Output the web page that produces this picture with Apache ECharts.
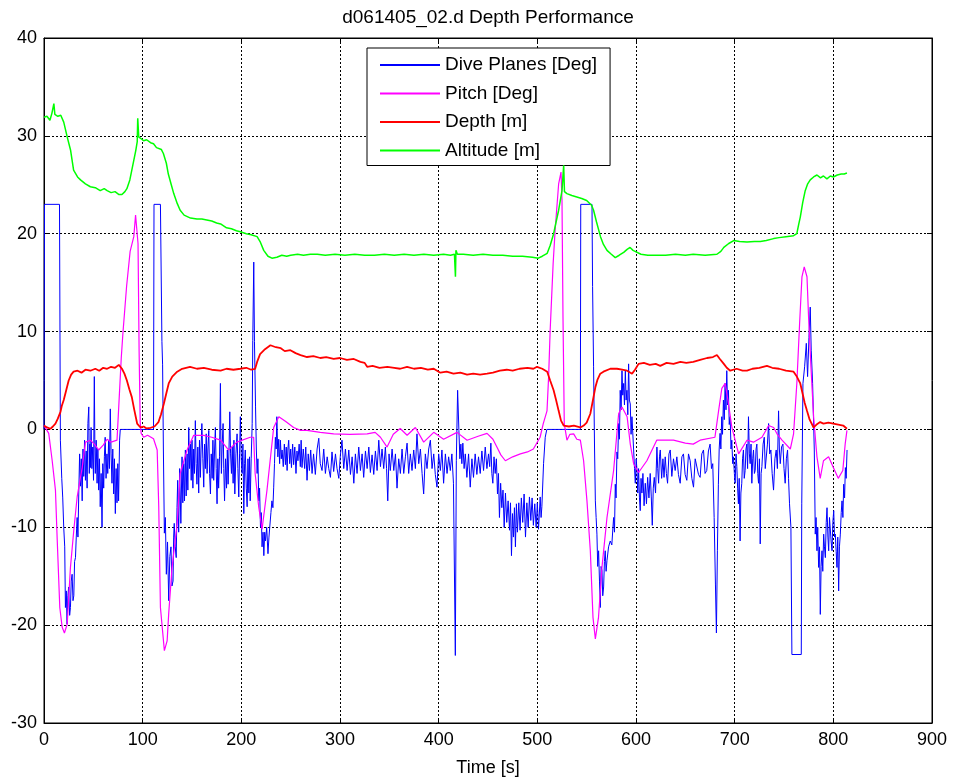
<!DOCTYPE html>
<html>
<head>
<meta charset="utf-8">
<script src="https://cdn.jsdelivr.net/npm/echarts@6/dist/echarts.min.js"></script>
<style>
html,body{margin:0;padding:0;background:#fff;}
#chart{width:955px;height:782px;}
</style>
</head>
<body>
<div id="chart"></div>
<script>
// ---- data: [time s, value] ----
const titleText = 'd061405_02.d Depth Performance';
const xAxisName = 'Time [s]';
const seriesNames = ['Dive Planes [Deg]', 'Pitch [Deg]', 'Depth [m]', 'Altitude [m]'];
const seriesColors = ['#0000ff', '#ff00ff', '#ff0000', '#00ff00'];
const xRange = [0, 900, 100];
const yRange = [-30, 40, 10];

const divePlanes = [
[0,0],[0.5,23],[15.7,23],[16.6,-1.1],[18,-5],[19,-7.0],[20,-10],[21,-12],[21.7,-18.2],[22.6,-16.5],[23.4,-19.9],[24.2,-17.0],[25,-16.1],[26,-19.0],[26.8,-18.2],[27.6,-15.5],[28.5,-14.8],[29.4,-17.5],[30.2,-17],[31,-13.5],[31.9,-13.1],[32.7,-11.0],[33.6,-9],[34.4,-11.0],
[35.3,-6.2],[36.1,-2.5],[37,-5.8],[37.8,-3.0],[38.7,-7.3],[39.5,-2.0],[40.3,-4.8],[41.1,-1.1],[42,-5.2],[42.8,-2.2],[43.7,-6.0],[44.5,0.6],[45.4,2.3],[45.9,-4.5],[46.4,-1.5],[47,-3.9],[47.7,0.2],[48.5,-4.0],[49.4,-1.8],[50.2,-5.2],[51,5.4],[51.5,-1.0],[52,-4.5],[52.9,-1.1],[53.8,-5.5],[54.6,-2.0],[55.4,-6.2],[56.2,-3.0],[57,-7.9],[57.9,-4.5],[58.8,-10],[59.6,-3.5],[60.5,-6.0],[61.2,-2.8],[62,-0.8],[62.9,-5.0],[63.8,-2.5],[64.6,-4.5],[65.5,-1.1],[66.3,-4.0],[67.2,2.1],[68,-2.5],[68.9,-5.5],[69.7,-2.0],[70.6,-6.6],[71.4,-3.0],[72.3,-8.6],[73.1,-4.0],[74,-7.5],[74.8,-3.5],[75.6,-7.3],[76.6,-1.1],[77.3,0],
[111,0],[111.5,23],[118,23],[119.5,9],[120.2,6.6],[121,-2],[122,-10.6],[123,-9.0],[124,-14.8],[125.2,-11.5],[126.4,-17.5],[127.5,-13.0],[128.7,-12],[129.7,-16.0],[130.8,-15.5],[131.4,-11.0],[132,-9.6],[133,-12.0],[134,-13.1],[134.8,-8.0],
[135.5,-5.2],[136.5,-10.5],[137.5,-4.0],[138.7,-9.6],[139.9,-2.8],[140.7,-7.5],[141.6,-3.5],[142.4,-7.3],[143.3,-2.1],[144.1,-6.8],[145,-2.5],[145.8,-6.2],[146.7,0.2],[147.5,-4.0],[148.4,-1.5],[149.2,-5.2],[150,-1.1],[150.9,-6.0],[151.7,-2.0],[152.5,-4.5],[153.4,0.9],[154.2,-3.5],[155,-5.6],[155.9,-1.8],[156.8,-6.5],[157.6,-1.1],[158.5,-4.9],[159.2,-2.0],[160,0.6],[161,-3.0],[161.9,-5.9],[162.7,-1.5],[163.6,-4.0],[164.4,-0.45],[165.3,-4.5],[166.1,-2.0],[167,-0.1],[167.8,-4.5],[168.7,-6.6],[169.5,-2.5],[170.4,-5.0],[171.2,-1.1],[172,-5.2],[172.9,-2.0],[173.7,0.2],[174.5,-4.0],[175.4,-7.6],[176.2,-3.0],[177,-6.0],[177.9,-2.8],[178.8,4.7],[179.3,-1.5],[179.8,-4.5],[180.6,-1.5],[181.5,0.6],[182.2,-4.0],[183,-7.3],[184,-3.0],[185,-6.0],[185.8,-2.1],[186.6,-5.6],[187.5,-2.0],[188.3,1.8],[189.1,-2.5],[190,-4.5],[190.8,-1.8],[191.7,-5.5],[192.5,-1.1],[193.4,-6.6],[194.5,-2.5],[195.7,-0.45],[196.5,-4.0],[197.4,-6.9],[198.2,-2.5],[199,1.3],[199.9,-3.0],[200.8,-4.5],[201.6,-1.5],[202.5,-8.6],[203.3,-3.5],[204,-2.1],[205,-6.0],[205.9,-7.9],[206.7,-3.0],[207.6,-6.5],[208.3,-2.8],[209,-7.3],[210,-3.0],[211,0.6],
[211.6,9.1],[212.6,17.1],[213.3,9],[214.4,2.3],[215.2,-2.0],[216,-4.5],[216.8,-3.0],[217.7,-7.3],[218.5,-6.0],[219.4,-10],[220.2,-8.5],[221,-12],[222,-10.5],[222.8,-12.9],[223.7,-10.5],[224.5,-11.4],[225.7,-10.0],[227,-12.7],[228,-11.0],[228.8,-10],[230,-8.5],[231,-7.3],[232,-8.0],[232.8,-5.9],[233.6,-3.5],[234.5,-0.8],[235.3,-2.0],
[236,1.3],[237,-2.8],[237.9,-1.0],[238.8,-3.5],[239.6,-1.1],[240.5,-3.0],[241.3,-2.1],[242.5,-3.8],[243.6,-1.5],[244.7,-3.6],[245.5,-1.8],[246.4,-4.2],[247.2,-2.0],[248,-1.1],[249,-3.5],[250,-2.0],[250.8,-3.9],[252,-1.5],[253,-3.6],[254.2,-1.8],[255.4,-4.5],[256.4,-2.2],[257.4,-3.2],[258.6,-1.5],[259.8,-3.8],[260.6,-1.1],[261.5,-3.9],[262.8,-2.0],[264.2,-4.0],[265.3,-1.8],[266.6,-5.2],[267.8,-2.5],[269,-4.2],[270.3,-2.1],[271.7,-4.5],[273.2,-2.5],[275,-4.6],[276.8,-2.0],[278.5,-0.9],[280,-3.5],[281.8,-4.2],[283.5,-2.0],[285.2,-4.5],[287,-2.8],[288.6,-4.0],[290.3,-4.9],[291.9,-2.3],[293.6,-4.3],[295.4,-2.5],[297,-4.0],[298.8,-5.0],[300.4,-2.6],[302,-1.1],[303.8,-4.0],[305.5,-2.0],[307.2,-4.2],[308.9,-2.1],[310.6,-4.6],[312.3,-2.8],[314,-5.5],[315.6,-2.5],[317.3,-4.5],[319,-1.8],[320.7,-4.2],[322.4,-2.5],[324,-4.9],[325.8,-2.2],[327.5,-4.0],[329.2,-1.8],[330.8,-4.4],[332.5,-2.6],[334.2,-4.6],[335.9,-2.2],[337.6,-4.2],[339.3,-1.1],[341,-3.8],[342.6,-2.0],[344.3,-4.0],[346,-1.8],[347.2,-4.0],[348.4,-7.3],[349.7,-2.5],[351,-4.2],[352.8,-2.0],[354.5,-4.2],[356.2,-2.5],[357.8,-6.0],[359.5,-3.0],[361.2,-4.5],[362.9,-2.0],[364.6,-4.5],[366.3,-2.8],[368,-1.4],[369.6,-4.5],[371.3,-2.5],[373,-4.2],[374.7,-2.1],[376.4,-4.0],[378,-0.45],[379.8,-3.5],[381.5,-2.0],[383.2,-4.5],[384.8,-6.6],[386.5,-2.5],[388.2,-4.0],[389.9,-2.0],[391.6,-1.1],[393.3,-4.0],[395,-2.5],[396.6,-4.6],[398.3,-5.9],[400,-2.5],[401.7,-4.2],[403.3,-2.1],[405,-5.5],[406.8,-2.5],[408.5,-4.5],[410.1,-2.8],[411.8,-4.2],[413.4,-2.5],[415,-5.5],[416.9,-23.1],[417.9,-3.2],[419.2,4.0],
[420.5,-0.1],[421.5,-3.0],[422.5,-1.5],[423.5,-3.5],[424.5,-1.4],[425.8,-4.0],[427,-2.5],[428.6,-4.9],[430.3,-2.5],[432,-5.9],[433.7,-3.0],[435.3,-4.9],[437,-2.5],[438.7,-4.6],[440.4,-2.8],[442.1,-4.5],[443.8,-2.2],[445.5,-4.2],[447.2,-1.8],[448.9,-4.0],[450.5,-2.5],[451.7,-3.8],[452.9,-1.4],[453.9,-4.5],[454.9,-5.5],[456.1,-2.8],[457.3,-4.5],[458.5,-3.0],[459.6,-6.6],[460.6,-4.5],[461.6,-9.0],[462.8,-5.5],[464,-8.0],[465.2,-6.2],[466.4,-10],[467.7,-6.5],[469,-9.5],[470.4,-7.3],[471.8,-10.3],[472.8,-7.5],[473.8,-12.9],[474.8,-8.6],[475.8,-11.0],[476.8,-8.0],[477.8,-12],[478.8,-7.6],[479.8,-10.5],[481.2,-7.5],[482.5,-10.3],[483.8,-7.0],[485.2,-9.5],[486.6,-6.6],[488,-11],[489.4,-7.5],[490.7,-10.0],[492,-6.9],[493.4,-9.3],[494.7,-7.0],[496,-9.8],[497.4,-7.6],[498.8,-10.0],[500,-7.5],[501.2,-10.2],[502.9,-6.9],[503.8,-9.0],[504.6,-7.9],[506.3,-3.5],[508,-0.8],[509.6,0],
[543.6,0],[544,23],[555.4,23],[556,14.6],[557,6.4],[558,-2],[558.8,-7.3],[559.6,-9.0],[560.4,-10.7],[561.2,-14.0],[562.1,-12.4],[563,-15.5],[563.8,-18.2],[564.6,-14.0],[565.5,-14.4],[566.3,-17.0],[567.2,-16.1],[568,-13.5],[568.8,-12.4],[569.7,-14.5],[570.6,-13.4],[572.2,-12.0],[573.9,-11.4],[575.5,-11.8],[577.3,-9],[578.2,-10.5],[579,-5.6],[579.8,-7.0],[580.7,-2.3],[581.5,-3.0],[582.4,0.6],[583.2,-1.0],[584,4.0],[584.9,2.0],[585.8,6.0],[586.6,3.5],[587.5,4.7],[588.3,2.5],[589.2,6.0],[590,3.0],[590.8,4.0],[591.7,1.5],[592.5,6.7],[593.3,3.0],[594.2,2.6],[595,-0.5],
[595.9,1.3],[597.6,-2.1],[598.5,-4.0],[599.3,-5.5],[600.2,-3.0],[601,-4.2],[601.8,-6.5],[602.6,-4.0],[603.5,-7.0],[604.3,-8.3],[605.1,-5.0],[606,-6.5],[607,-4.5],[608.2,-7.8],[609.4,-5.5],[610.6,-7.6],[611.8,-4.9],[613.1,-7.0],[614.4,-4.5],[615.5,-6.9],[616.5,-9.8],[617.5,-6.0],[618.5,-4.9],[619.8,-6.5],[621.2,-1.8],[622,-4.0],[622.9,-5.5],[623.8,-2.8],[624.6,-2.1],[626,-5.0],[627.3,-3.0],[628.4,-4.9],[629.6,-2.8],[630.8,-4.5],[632,-5.5],[633.4,-2.5],[634.7,-2.1],[636.3,-4.8],[638,-3.0],[639.7,-4.2],[641.4,-2.8],[643,-4.6],[644.8,-5.5],[646.5,-2.8],[648.1,-2.5],[649.8,-4.6],[651.5,-5.2],[653.2,-2.5],[654.9,-3.2],[656.6,-5.0],[658.3,-5.9],[660,-3.0],[661.6,-2.8],[663.3,-4.6],[665,-4.9],[666.7,-2.5],[668.4,-2.1],[670,-4.5],[671.7,-4.2],[673.4,-2.2],[675.1,-1.5],[676.5,-4.0],[677.8,-3.5],
[679.2,-9],[680.5,-15.8],[681.5,-20.8],[682.5,-12.4],[683.5,-5.6],[684.3,-2.0],[685.2,-0.4],[686,-2.0],[686.9,1.3],[687.7,-0.5],[688.6,3.0],[689.5,1.0],[690.3,4.7],[691.2,2.0],[692,6.0],[692.8,2.5],[693.7,4.0],[694.5,0.5],[695.4,1.3],[696.3,-2.0],
[697.1,-1.1],[698,-3.5],[698.8,-2.8],[699.7,-4.5],[700.5,-5.5],[701.4,-2.5],[702.2,-3.8],[703,-6.0],[703.8,-7.6],[704.6,-5.0],[705.5,-11.4],[706.3,-6.5],[707.2,-5.5],[708,-3.0],[708.9,-2.1],[709.7,-5.0],[710.6,-4.2],[711.5,-2.0],[712.3,-1.5],[713.1,-4.0],[714,1.3],[714.9,-2.5],[715.7,-3.5],[716.6,-1.5],[717.4,-5.5],[718.3,-3.0],[719.1,-2.1],[720,-4.5],[720.8,-4.2],[721.7,-2.0],[722.5,-1.5],[723.4,-4.5],[724.2,-5.5],[725.1,-3.0],[725.9,-11.7],[726.8,-4.5],[727.6,-3.8],[728.8,-1.5],[730,-0.8],[731,-4.0],[732,-3.8],[733.2,-1.5],[734.4,0.6],[735.5,-2.5],[736.7,-2.1],[738,-4.5],[739.4,-6.2],[740.8,-3.0],[742.1,-2.1],[743.3,-4.0],[744.5,1.9],[745.3,-2.0],[746.2,-3.5],[747.5,-1.8],[748.9,-1.5],[750,-4.0],[751.2,-5.5],[752.4,-3.0],[753.6,-2.1],[754.6,-5.0],[755.6,-7.6],[757,-10],[758,-23],[767.5,-23],
[768,-7.6],[769.2,4.7],[770.9,6.4],[772.6,8.8],[773.9,5.4],[775.3,9.4],[776.6,12.5],[777.6,8.1],[779,4.7],[780.7,-2.1],[781.7,-10.7],[782.5,-9.0],[783.4,-12.4],[784.2,-10.0],[785.1,-14.1],[786,-12.0],[786.8,-18.9],[787.6,-14.0],[788.5,-12.4],[789.3,-14.5],[790.2,-10.7],[791,-12.0],[791.9,-13.1],[792.8,-9.5],[793.6,-8],[794.5,-11.0],[795.3,-12.4],[796.1,-9.0],[797,-9],[797.8,-11.5],[798.7,-12.4],[799.5,-9.5],[800.4,-8.3],[801.2,-11.0],[802,-10.7],[802.9,-12.5],[803.7,-14.1],[804.5,-11.0],[805.4,-16.5],[806.2,-12.0],[807.1,-10.7],[808,-8.5],[808.8,-7.3],[809.7,-9.0],[810.5,-5.6],[811.4,-7.0],[812.2,-3.9],[813,-5.0],[813.9,-2.1]
];

const pitch = [
[0,0.4],[4.8,-0.4],[8.3,-3.2],[11.6,-6.2],[13.4,-11.3],[16,-18.2],[18.4,-20.2],[20.7,-20.8],[23.5,-19.9],[26.8,-14.1],[30.2,-10.3],[33.6,-6.9],[38.7,-3.9],[42,-1.3],[47,-1.1],[51,-1.5],[55.4,-2.1],[60,-1.6],[64,-1.0],[68,-1.3],[74,-1.1],[75.7,2.2],[78.3,7.3],[80,9.85],[83.7,14.6],[87.3,18.2],[91,19.7],[92.8,21.9],[95.3,19.0],[96.4,8.0],[97.5,0.7],[98.5,-0.4],[101,-0.8],[105,-0.6],[111,-0.95],[113,-1.0],[114.7,-2.1],[116.3,-7.9],[118,-18.2],[122,-22.6],[124.8,-21.6],[126.4,-18.8],[129.8,-14.1],[135,-9.6],[138,-4.5],[145,-2.1],[151.7,-0.6],[162,-0.6],[170,-0.8],[179,-1.1],[187,-2.1],[195.5,-1.3],[209,-0.8],[212.5,-0.8],[214,-4.5],[217.6,-7.9],[221,-10.2],[226,-6.2],[232.8,0.2],[238,1.3],[245,0.8],[253,0.2],[260,-0.1],[266.6,-0.1],[280,-0.3],[293.6,-0.45],[310,-0.5],[327.5,-0.45],[335.6,-0.3],[341,-0.8],[347.7,-1.8],[354,-0.5],[361,0.1],[368,-0.6],[376.4,0.2],[384.8,-1.3],[395,-0.3],[405,-1.0],[418.6,-0.3],[428.8,-1.1],[440,-0.7],[449,-0.4],[455,-1.0],[459,-1.8],[463,-2.6],[467.6,-3.2],[475,-2.8],[482.8,-2.5],[490,-2.3],[496,-2.0],[502.8,-0.8],[506,0.6],[509.8,1.9],[511.4,5.3],[513,10.1],[516,16.9],[518,20.3],[521.6,25.1],[524,26.3],[525,23.4],[526,11.5],[527.3,0.6],[530,-1.1],[533,-0.5],[536.8,-0.45],[540,-1.0],[543.6,-1.1],[546.9,-3.2],[550.3,-7.3],[553.7,-12.4],[556.4,-19.2],[558.8,-21.4],[562,-19.2],[565.5,-14.1],[570.6,-9.0],[577.3,-4.2],[582.4,1.6],[585.8,2.3],[591,1.3],[594.2,-1.5],[597.6,-3.5],[602.6,-4.4],[611,-3.2],[621,-1.1],[638,-1.1],[650,-1.4],[658,-1.5],[665,-1.1],[680,-0.8],[683.7,1.9],[687,4.2],[690.4,4.7],[693.8,2.6],[697.2,0.2],[704,-2.5],[712.5,-1.1],[719,-1.3],[727.7,-0.8],[734.5,0.4],[739.5,0.2],[742.9,-0.45],[748,-1.1],[756.4,-2.0],[759.7,-0.45],[763,4.7],[765.8,10.8],[768.2,15.6],[770.5,16.6],[773.3,15.6],[774.9,11.5],[777.3,6.4],[780,1.3],[783.4,-2.8],[786.7,-5.0],[790,-3.2],[795.2,-2.8],[800,-3.9],[805,-5.0],[809.6,-4.2],[812,-1.5],[813.8,-0.1]
];

const depth = [
[0,0.4],[3,0.2],[6.6,0.07],[9,0.3],[11.6,0.6],[14,1.1],[16.7,1.8],[18,2.4],[20,3.0],[22,3.8],[25,5.0],[27.5,5.6],[30,5.9],[34,6.0],[38,5.8],[42,6.1],[47,6.0],[52,6.2],[56,6.0],[60,6.3],[64,6.2],[68,6.4],[72,6.3],[75.8,6.6],[79,6.2],[81.5,5.7],[84,5.0],[86.5,4.1],[89,3.3],[91.5,2.0],[94.4,0.6],[97.8,0.2],[101,0.3],[104,0.1],[108,0.17],[112,0.3],[116,0.75],[118.5,1.5],[121.4,2.6],[124,3.7],[126.4,4.7],[130,5.4],[135,5.9],[140,6.2],[148,6.4],[155,6.2],[162,6.3],[170,6.1],[179,6.0],[185,6.2],[192,6.1],[199,6.2],[205,6.3],[210,6.1],[214,6.2],[216,6.9],[219,7.7],[224,8.2],[229.5,8.6],[235,8.4],[240,8.3],[244,8.0],[249.7,8.1],[255,7.8],[260,7.6],[266.6,7.4],[273,7.5],[280,7.3],[286,7.4],[293.6,7.2],[300,7.3],[307,7.1],[314,7.2],[320.7,6.9],[325,6.8],[327.5,6.4],[333,6.5],[340,6.3],[348,6.4],[355,6.3],[361,6.2],[368,6.4],[375,6.2],[382,6.3],[389,6.1],[395,6.2],[401.7,5.8],[408,5.9],[415,5.7],[422,5.8],[428.8,5.6],[435,5.7],[442,5.6],[449,5.7],[455,5.8],[462,6.0],[469,6.1],[475,6.0],[482,6.2],[490,6.3],[496,6.2],[499.7,6.4],[505,6.2],[510,5.9],[513,5.0],[516.5,4.0],[519,3.0],[521.6,1.9],[524,0.9],[526.7,0.4],[532,0.3],[537,0.4],[543.6,0.2],[547,0.4],[550,0.7],[553.7,1.6],[556,2.8],[558.8,4.3],[561,5.1],[563.8,5.7],[567,5.9],[574,6.2],[580.7,6.2],[586,6.1],[591,6.0],[596,5.7],[599,6.1],[602.6,6.7],[608,6.8],[614,6.6],[620,6.7],[624.6,6.5],[631,6.8],[638,6.7],[645,6.9],[651,6.8],[658,6.9],[665,7.1],[672,7.3],[678,7.4],[682,7.6],[685,7.2],[689,6.7],[692,6.3],[695.5,6.0],[702,6.2],[708,6.0],[712.5,6.0],[718,6.2],[725,6.3],[732.7,6.5],[738,6.3],[745,6.2],[752,6.0],[759.7,5.9],[763,5.4],[766.5,4.7],[769,3.6],[771,2.7],[773.3,1.9],[776,1.0],[780,0.2],[783,0.5],[786.7,0.75],[790,0.6],[795,0.7],[800,0.6],[805,0.5],[810,0.4],[813.8,0.07]
];

const altitude = [
[0,31.9],[3,32.0],[6,31.6],[8,32.3],[10,33.3],[11,32.2],[14,32.0],[17,32.1],[20,31.4],[23.5,29.9],[27,28.5],[30,26.5],[34,25.8],[37,25.5],[42,25.1],[47,24.8],[52,24.7],[57,24.4],[61,24.6],[64,24.4],[68,24.2],[72,24.3],[76,24.0],[79,24.0],[82,24.3],[84,24.6],[87,25.5],[89,26.5],[91,27.5],[93,28.5],[94.5,29.4],[95,31.8],[96,29.9],[98,30.0],[101,29.5],[104,29.6],[108,29.3],[111,29.2],[114,28.8],[116,28.9],[119,28.6],[121,28.2],[124,27.2],[126,26.1],[129,25.0],[131.5,24.1],[135,23.1],[138,22.4],[142,21.9],[148.5,21.6],[155,21.5],[160,21.5],[165,21.4],[170,21.3],[175,21.1],[179,21.0],[185,20.6],[190,20.5],[195,20.3],[199,20.2],[205,20.0],[210,19.9],[216,19.7],[219,19.2],[222.7,18.3],[227,17.7],[231,17.5],[236,17.6],[241,17.8],[246,17.7],[250,17.8],[257,17.9],[263,17.8],[270,17.9],[277,17.9],[285,17.8],[295,17.9],[305,17.8],[315,17.9],[325,17.8],[335,17.8],[345,17.9],[355,17.8],[365,17.9],[375,17.8],[385,17.9],[395,17.8],[405,17.9],[412,17.8],[416,17.9],[417,15.6],[417.5,18.3],[419,17.9],[425,17.9],[435,17.8],[445,17.9],[455,17.8],[465,17.8],[475,17.7],[485,17.7],[495,17.6],[501,17.5],[505,17.7],[510,18.0],[513,18.8],[516.5,20.0],[519,21.2],[521.6,22.4],[525,24.4],[526.7,27.0],[527.5,24.3],[530,24.1],[535,23.9],[540,23.75],[545,23.6],[550,23.4],[555,22.9],[557,22.4],[560,21.2],[564,19.7],[567,18.9],[570.6,18.3],[575,17.9],[579,17.55],[583,17.8],[587.5,18.1],[591,18.4],[594,18.6],[597,18.3],[599,18.1],[605,17.9],[612,17.8],[617.8,17.8],[630,17.8],[640,17.9],[650,17.8],[658,17.9],[670,17.8],[682,17.9],[686,18.2],[689,18.6],[694,19.0],[699,19.3],[705,19.2],[712.5,19.15],[720,19.2],[726,19.2],[732,19.3],[739.5,19.5],[745,19.6],[752,19.7],[759.7,19.8],[763,20.0],[765,21.0],[766.5,21.7],[769,23.2],[771.5,24.4],[774,25.1],[776.6,25.5],[780,25.8],[783.4,26.0],[787,25.7],[790,25.9],[793.5,25.6],[797,25.9],[800,25.8],[804,26.0],[808,26.1],[811,26.1],[813.8,26.2]
];

const seriesData = [divePlanes, pitch, depth, altitude];
const seriesWidths = [1, 1.2, 1.8, 1.5];

const FONT = 'Liberation Sans, Arial, sans-serif';
const chart = echarts.init(document.getElementById('chart'), null, {renderer: 'canvas'});

const gridLine = {show: true, lineStyle: {color: '#000', width: 1, type: [2, 2]}};
const tickIn = {show: true, inside: true, length: 5, lineStyle: {color: '#000', width: 1}};

const option = {
  animation: false,
  backgroundColor: '#fff',
  color: seriesColors,
  title: {
    text: titleText,
    left: 488, top: 8, padding: 0,
    textAlign: 'center',
    textStyle: {fontFamily: FONT, fontSize: 19, fontWeight: 'normal', color: '#000'}
  },
  legend: {
    orient: 'vertical',
    left: 367, top: 48,
    padding: [7, 13, 5, 13],
    backgroundColor: '#fff',
    borderColor: '#000', borderWidth: 1,
    itemWidth: 60, itemHeight: 2, itemGap: 8.5,
    textStyle: {fontFamily: FONT, fontSize: 19, color: '#000', lineHeight: 20},
    data: seriesNames.map((n, i) => ({
      name: n,
      icon: 'rect',
      itemStyle: {color: seriesColors[i], borderWidth: 0, opacity: 1}
    }))
  },
  grid: {
    left: 44, top: 38, width: 888, height: 685,
    show: true, borderColor: '#000', borderWidth: 1, backgroundColor: 'transparent',
    containLabel: false
  },
  xAxis: [{
    type: 'value', min: xRange[0], max: xRange[1], interval: xRange[2],
    name: xAxisName, nameLocation: 'middle', nameGap: 36,
    nameTextStyle: {fontFamily: FONT, fontSize: 18, color: '#000'},
    axisLine: {show: true, onZero: false, lineStyle: {color: '#000', width: 1}},
    axisTick: tickIn,
    axisLabel: {fontFamily: FONT, fontSize: 18, color: '#000', margin: 8},
    splitLine: gridLine
  }, {
    type: 'value', position: 'top', min: xRange[0], max: xRange[1], interval: xRange[2],
    axisLine: {show: true, onZero: false, lineStyle: {color: '#000', width: 1}},
    axisTick: tickIn, axisLabel: {show: false}, splitLine: {show: false}
  }],
  yAxis: [{
    type: 'value', min: yRange[0], max: yRange[1], interval: yRange[2],
    axisLine: {show: true, onZero: false, lineStyle: {color: '#000', width: 1}},
    axisTick: tickIn,
    axisLabel: {fontFamily: FONT, fontSize: 18, color: '#000', margin: 7},
    splitLine: gridLine
  }, {
    type: 'value', position: 'right', min: yRange[0], max: yRange[1], interval: yRange[2],
    axisLine: {show: true, onZero: false, lineStyle: {color: '#000', width: 1}},
    axisTick: tickIn, axisLabel: {show: false}, splitLine: {show: false}
  }],
  series: seriesNames.map((name, i) => ({
    name: name,
    type: 'line',
    xAxisIndex: 0, yAxisIndex: 0,
    data: seriesData[i],
    symbol: 'none',
    showSymbol: false,
    itemStyle: {color: seriesColors[i]},
    lineStyle: {color: seriesColors[i], width: seriesWidths[i]},
    emphasis: {disabled: true},
    silent: true,
    z: 2 + i
  }))
};
chart.setOption(option);
</script>
</body>
</html>
